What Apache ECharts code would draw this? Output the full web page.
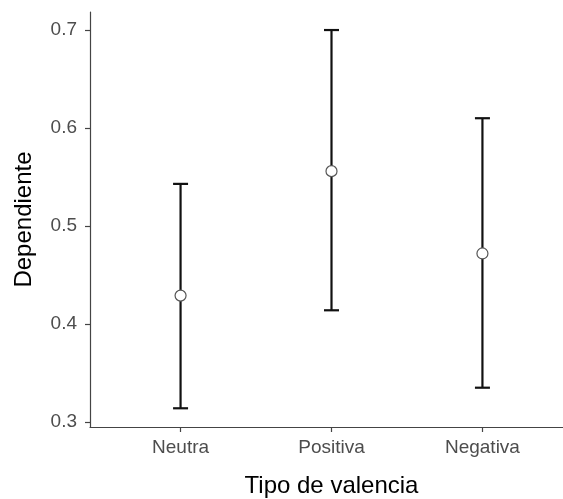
<!DOCTYPE html>
<html lang="es">
<head>
    <meta charset="UTF-8">
    <title>Dependiente por tipo de valencia</title>
    <script type="text/javascript" src="https://cdn.jsdelivr.net/npm/echarts@6/dist/echarts.min.js"></script>
    <style>
        html, body { margin: 0; padding: 0; background: #fff; }
    </style>
</head>
<body>
    <div id="main" style="width: 563px;height:499px;"></div>
    <script type="text/javascript">
        // datos
        var categories = ['Neutra', 'Positiva', 'Negativa'];
        var means = [0.429, 0.556, 0.472];
        var lower = [0.314, 0.414, 0.335];
        var upper = [0.543, 0.700, 0.610];
        var yTicks = [0.3, 0.4, 0.5, 0.6, 0.7];

        var font = '"Liberation Sans", Arial, sans-serif';
        var xPos = categories.map(function (c, i) { return i + 1; });

        var barData = xPos.map(function (x, i) { return [x, lower[i], upper[i]]; });
        var pointData = xPos.map(function (x, i) { return [x, means[i]]; });

        var chart = echarts.init(document.getElementById('main'));
        chart.setOption({
            animation: false,
            backgroundColor: '#ffffff',
            grid: {
                left: 90,
                top: 12,
                width: 483,
                bottom: 72,
                outerBoundsMode: 'none'
            },
            xAxis: {
                type: 'value',
                min: 0.4,
                max: 3.6,
                name: 'Tipo de valencia',
                nameLocation: 'middle',
                nameGap: 47,
                nameTextStyle: { fontFamily: font, fontSize: 24, color: '#000' },
                splitLine: { show: false },
                axisLine: { lineStyle: { color: '#444', width: 1.2 } },
                axisTick: { customValues: xPos, length: 5, lineStyle: { color: '#444', width: 1.2 } },
                axisLabel: {
                    customValues: xPos,
                    margin: 11,
                    fontFamily: font,
                    fontSize: 19,
                    color: '#4d4d4d',
                    formatter: function (v) { return categories[Math.round(v) - 1]; }
                }
            },
            yAxis: {
                type: 'value',
                min: 0.2949,
                max: 0.7184,
                name: 'Dependiente',
                nameLocation: 'middle',
                nameGap: 54,
                nameTextStyle: { fontFamily: font, fontSize: 24, color: '#000' },
                splitLine: { show: false },
                axisLine: { show: true, lineStyle: { color: '#444', width: 1.2 } },
                axisTick: { show: true, customValues: yTicks, length: 5, lineStyle: { color: '#444', width: 1.2 } },
                axisLabel: {
                    customValues: yTicks,
                    margin: 13,
                    fontFamily: font,
                    fontSize: 19,
                    color: '#4d4d4d',
                    formatter: function (v) { return v.toFixed(1); }
                }
            },
            series: [
                {
                    type: 'custom',
                    data: barData,
                    z: 2,
                    renderItem: function (params, api) {
                        var x = api.value(0);
                        var lo = api.coord([x, api.value(1)]);
                        var hi = api.coord([x, api.value(2)]);
                        var half = 7.5;
                        var style = { stroke: '#111', lineWidth: 2.2 };
                        return {
                            type: 'group',
                            children: [
                                { type: 'line', shape: { x1: lo[0], y1: lo[1], x2: hi[0], y2: hi[1] }, style: style },
                                { type: 'line', shape: { x1: hi[0] - half, y1: hi[1], x2: hi[0] + half, y2: hi[1] }, style: style },
                                { type: 'line', shape: { x1: lo[0] - half, y1: lo[1], x2: lo[0] + half, y2: lo[1] }, style: style }
                            ]
                        };
                    }
                },
                {
                    type: 'scatter',
                    data: pointData,
                    z: 3,
                    symbol: 'circle',
                    symbolSize: 11,
                    itemStyle: { color: '#ffffff', borderColor: '#555', borderWidth: 1.2, opacity: 1 }
                }
            ]
        });
    </script>
</body>
</html>
